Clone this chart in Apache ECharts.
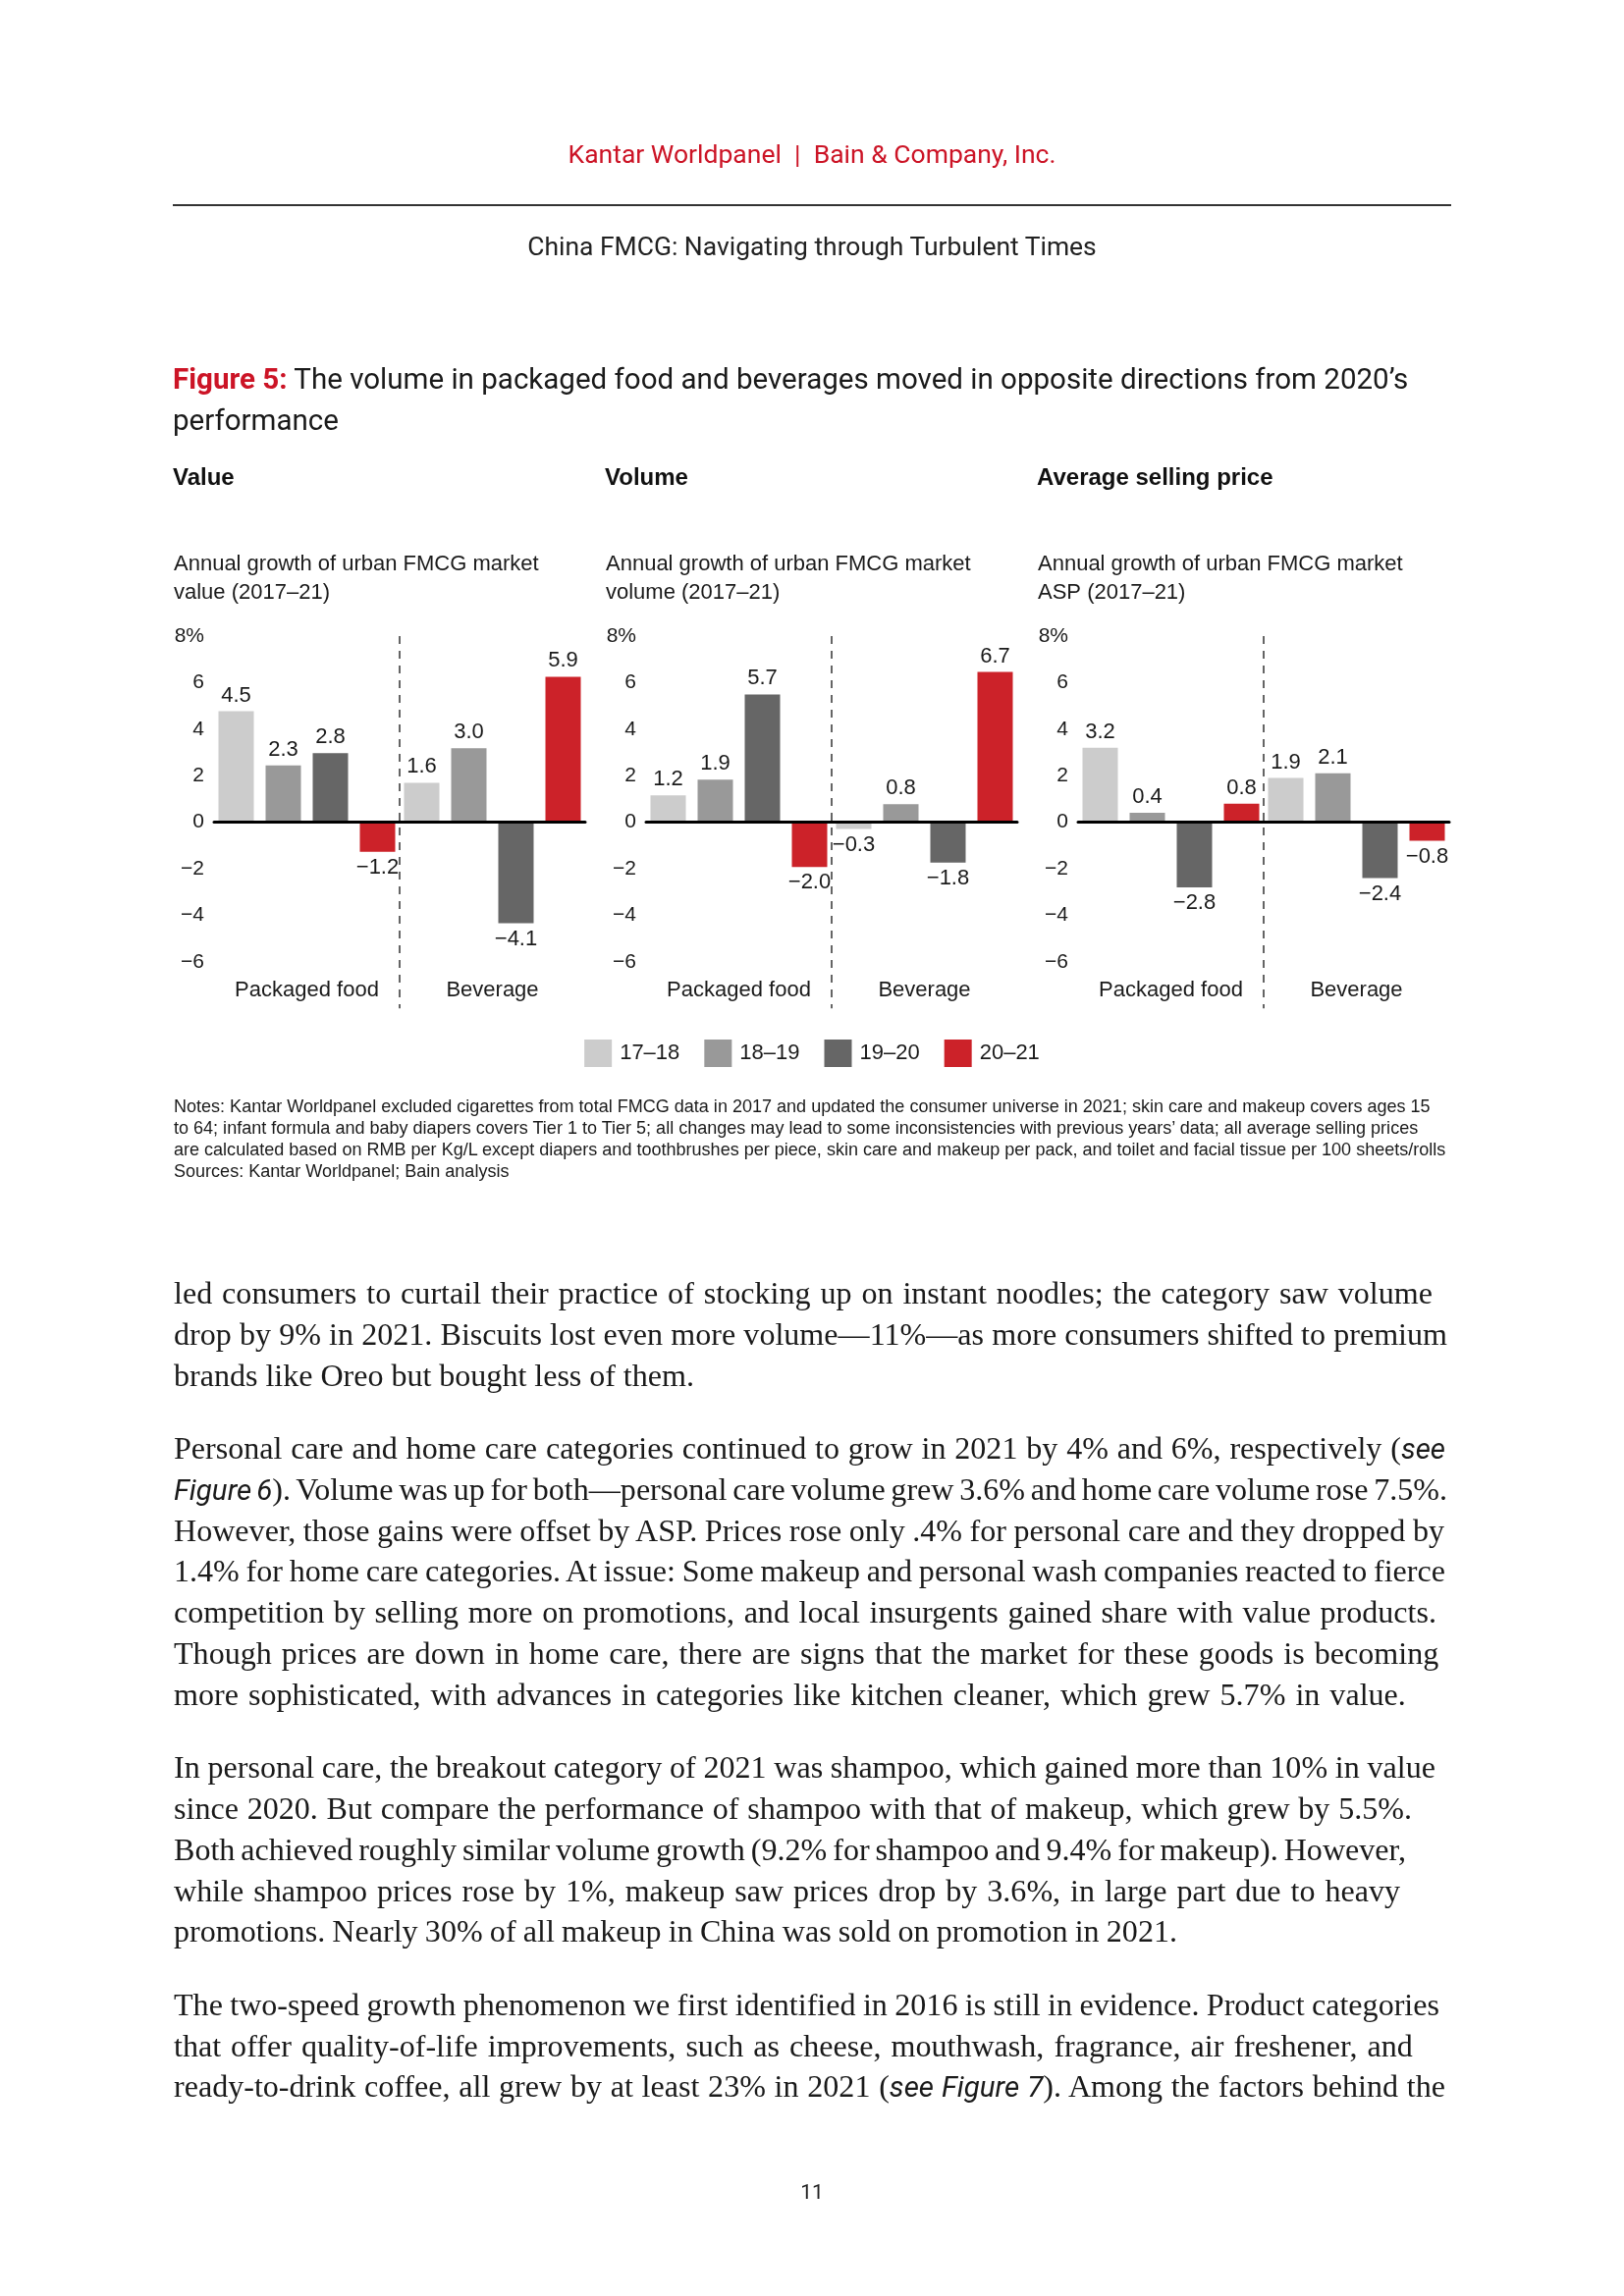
<!DOCTYPE html>
<html><head><meta charset="utf-8">
<script src="https://cdn.jsdelivr.net/npm/echarts@6/dist/echarts.min.js"></script>
<style>
html,body{margin:0;padding:0;background:#fff;}
#page{position:relative;width:1654px;height:2339px;overflow:hidden;background:#fff;}
#chart{position:absolute;left:0;top:0;width:1654px;height:2339px;}
#textLayer{position:absolute;left:0;top:0;width:1654px;height:2339px;pointer-events:none;}
.t{position:absolute;white-space:nowrap;line-height:1.2;transform:translateY(-50%);}
</style></head><body>
<div id="page"><div id="chart"></div><div id="textLayer"></div></div>
<script>
// ---------- DATA ----------
const categories = ['Packaged food', 'Beverage'];
const periods = ['17–18', '18–19', '19–20', '20–21'];
const yTicks = [-8, -6, -4, -2, 0, 2, 4, 6, 8];

// Value growth (%)
const value_1718 = [4.5, 1.6];
const value_1819 = [2.3, 3.0];
const value_1920 = [2.8, -4.1];
const value_2021 = [-1.2, 5.9];
// Volume growth (%)
const volume_1718 = [1.2, -0.3];
const volume_1819 = [1.9, 0.8];
const volume_1920 = [5.7, -1.8];
const volume_2021 = [-2.0, 6.7];
// ASP growth (%)
const asp_1718 = [3.2, 1.9];
const asp_1819 = [0.4, 2.1];
const asp_1920 = [-2.8, -2.4];
const asp_2021 = [0.8, -0.8];

const panelHeadings = ['Value', 'Volume', 'Average selling price'];
const panelSubtitles = [
  'Annual growth of urban FMCG market\nvalue (2017–21)',
  'Annual growth of urban FMCG market\nvolume (2017–21)',
  'Annual growth of urban FMCG market\nASP (2017–21)'
];
const panelSeries = [
  [value_1718, value_1819, value_1920, value_2021],
  [volume_1718, volume_1819, volume_1920, volume_2021],
  [asp_1718, asp_1819, asp_1920, asp_2021]
];

// ---------- STYLE ----------
const colors = ['#cccccc', '#999999', '#666666', '#cc2229'];
const SANS = '"Liberation Sans", Arial, sans-serif';
const TXT = '#1a1a1a';
const panelDx = 440;
const gridLeft0 = 218, gridTop = 648, gridW = 378, gridH = 379.2;
const barRange = [7.55, 8.3, 8.0]; // hidden bar-scale half range per panel (reference bars are scaled per panel)

function fmt(v) { return v < 0 ? '\u2212' + Math.abs(v).toFixed(1) : v.toFixed(1); }
function tickFmt(v) { if (v === 8) return '8%'; return v < 0 ? '\u2212' + Math.abs(v) : String(v); }

const grid = [], xAxis = [], yAxis = [], series = [], title = [];
for (let p = 0; p < 3; p++) {
  const gl = gridLeft0 + p * panelDx;
  grid.push({ left: gl, top: gridTop, width: gridW, height: gridH, containLabel: false });
  // zero-line category axis (bars)
  xAxis.push({ type: 'category', gridIndex: p, data: categories, z: 10,
    axisLine: { show: true, onZero: true, lineStyle: { color: '#000', width: 3 } },
    axisTick: { show: false }, axisLabel: { show: false }, splitLine: { show: false } });
  // category labels at bottom
  xAxis.push({ type: 'category', gridIndex: p, data: categories, position: 'bottom',
    axisLine: { show: false, onZero: false }, axisTick: { show: false },
    axisLabel: { show: true, interval: 0, hideOverlap: false, fontSize: 22, color: TXT, fontFamily: SANS, margin: -29 } });
  // divider between groups
  xAxis.push({ type: 'value', gridIndex: p, min: 0, max: 2, interval: 1, position: 'top',
    axisLine: { show: false }, axisTick: { show: false }, axisLabel: { show: false },
    splitLine: { show: true, showMinLine: false, showMaxLine: false,
      lineStyle: { type: [8, 7], color: '#333', width: 1.5 } } });
  yAxis.push({ type: 'value', gridIndex: p, min: yTicks[0], max: yTicks[yTicks.length - 1], interval: 2,
    axisLine: { show: false }, axisTick: { show: false }, splitLine: { show: false },
    axisLabel: { showMinLabel: false, fontSize: 21, color: TXT, fontFamily: SANS, margin: 10, formatter: tickFmt } });
  yAxis.push({ type: 'value', gridIndex: p, min: -barRange[p], max: barRange[p], show: false });

  panelSeries[p].forEach((arr, k) => {
    series.push({
      type: 'bar', name: periods[k], xAxisIndex: p * 3, yAxisIndex: p * 2 + 1,
      barWidth: 36, barGap: '33.33%',
      itemStyle: { color: colors[k] },
      label: { show: true, fontSize: 22, color: TXT, fontFamily: SANS, distance: 5, formatter: (q) => fmt(q.value) },
      data: arr.map(v => ({ value: v, label: { position: v < 0 ? 'bottom' : 'top' } }))
    });
  });

  title.push({ text: panelHeadings[p], left: 176 + p * panelDx, top: 475, padding: 0,
    textStyle: { fontSize: 24, fontWeight: 'bold', color: '#111', fontFamily: SANS } });
  title.push({ text: panelSubtitles[p], left: 177 + p * panelDx, top: 560, padding: 0,
    textStyle: { fontSize: 22, fontWeight: 'normal', color: TXT, fontFamily: SANS, lineHeight: 29 } });
}

const chart = echarts.init(document.getElementById('chart'), null, { renderer: 'canvas' });
chart.setOption({
  animation: false,
  backgroundColor: 'transparent',
  title: title,
  legend: { data: periods, left: 'center', top: 1054, itemWidth: 28, itemHeight: 28, itemGap: 25,
    icon: 'rect', textStyle: { fontSize: 22, color: TXT, fontFamily: SANS, padding: [0, 0, 0, 3] } },
  grid: grid, xAxis: xAxis, yAxis: yAxis, series: series
});

// ---------- PAGE TEXT ----------
const layer = document.getElementById('textLayer');
const RED = '#cc1426';
const GROT = 'Roboto, "Noto Sans", sans-serif';
const SERIF = '"Liberation Serif", "Times New Roman", serif';
function addLine(html, left, cy, font, size, color, extra) {
  const d = document.createElement('div');
  d.className = 't';
  d.innerHTML = html;
  d.style.left = left + 'px';
  d.style.top = cy + 'px';
  d.style.fontFamily = font;
  d.style.fontSize = size + 'px';
  d.style.color = color || '#1a1a1a';
  if (extra) Object.assign(d.style, extra);
  layer.appendChild(d);
  return d;
}
function fitGroup(lines, refIdx, target) {
  const ref = lines[refIdx];
  const size = parseFloat(ref.style.fontSize);
  const w = ref.getBoundingClientRect().width;
  const ns = size * target / w;
  lines.forEach(l => l.style.fontSize = ns + 'px');
  return ns;
}
function fitSpacing(d, right) {
  const left = parseFloat(d.style.left);
  const w = d.getBoundingClientRect().width;
  const n = (d.textContent.match(/ /g) || []).length;
  if (n > 0) {
    const ws = Math.max(-3, Math.min(2, (right - left - w) / n));
    d.style.wordSpacing = ws + 'px';
  }
}
function centerLine(d, cx) { const w = d.getBoundingClientRect().width; d.style.left = (cx - w / 2) + 'px'; }

// header
const h1 = addLine('Kantar Worldpanel&nbsp;&nbsp;|&nbsp;&nbsp;Bain &amp; Company, Inc.', 0, 157, GROT, 24, RED);
fitGroup([h1], 0, 497); centerLine(h1, 827);
const rule = document.createElement('div');
Object.assign(rule.style, { position: 'absolute', left: '176px', top: '208px', width: '1302px', height: '1.5px', background: '#333' });
layer.appendChild(rule);
const h2 = addLine('China FMCG: Navigating through Turbulent Times', 0, 251, GROT, 24, '#222');
fitGroup([h2], 0, 580); centerLine(h2, 827);

// figure title
const t1 = addLine('<span style="color:' + RED + ';font-weight:bold">Figure 5:</span> The volume in packaged food and beverages moved in opposite directions from 2020’s', 176, 387, GROT, 28, '#1a1a1a');
const t2 = addLine('performance', 176, 429, GROT, 28, '#1a1a1a');
fitGroup([t1, t2], 0, 1259);

// notes
const notes = [
  'Notes: Kantar Worldpanel excluded cigarettes from total FMCG data in 2017 and updated the consumer universe in 2021; skin care and makeup covers ages 15',
  'to 64; infant formula and baby diapers covers Tier 1 to Tier 5; all changes may lead to some inconsistencies with previous years’ data; all average selling prices',
  'are calculated based on RMB per Kg/L except diapers and toothbrushes per piece, skin care and makeup per pack, and toilet and facial tissue per 100 sheets/rolls',
  'Sources: Kantar Worldpanel; Bain analysis'
];
const noteY = [1128, 1150, 1172, 1194];
const noteEls = notes.map((s, i) => addLine(s, 177, noteY[i], SANS, 16, '#1a1a1a'));
fitGroup(noteEls, 2, 1296);

// body paragraphs: [html, centre y, right end in reference]
const IT = (s) => '<span style="font-style:italic;font-size:0.92em;font-family:' + GROT.replace(/"/g, "'") + '">' + s + '</span>';
const body = [
  ['led consumers to curtail their practice of stocking up on instant noodles; the category saw volume', 1317, 1459],
  ['drop by 9% in 2021. Biscuits lost even more volume—11%—as more consumers shifted to premium', 1359, 1474],
  ['brands like Oreo but bought less of them.', 1400.5, 707],
  ['Personal care and home care categories continued to grow in 2021 by 4% and 6%, respectively (' + IT('see'), 1475, 1472],
  [IT('Figure 6') + '). Volume was up for both—personal care volume grew 3.6% and home care volume rose 7.5%.', 1517, 1474],
  ['However, those gains were offset by ASP. Prices rose only .4% for personal care and they dropped by', 1558.6, 1471],
  ['1.4% for home care categories. At issue: Some makeup and personal wash companies reacted to fierce', 1600.4, 1472],
  ['competition by selling more on promotions, and local insurgents gained share with value products.', 1642, 1463],
  ['Though prices are down in home care, there are signs that the market for these goods is becoming', 1684, 1468],
  ['more sophisticated, with advances in categories like kitchen cleaner, which grew 5.7% in value.', 1725.7, 1462],
  ['In personal care, the breakout category of 2021 was shampoo, which gained more than 10% in value', 1800, 1462],
  ['since 2020. But compare the performance of shampoo with that of makeup, which grew by 5.5%.', 1842, 1438],
  ['Both achieved roughly similar volume growth (9.2% for shampoo and 9.4% for makeup). However,', 1884, 1432],
  ['while shampoo prices rose by 1%, makeup saw prices drop by 3.6%, in large part due to heavy', 1925.5, 1426],
  ['promotions. Nearly 30% of all makeup in China was sold on promotion in 2021.', 1967, 1199],
  ['The two-speed growth phenomenon we first identified in 2016 is still in evidence. Product categories', 2042, 1466],
  ['that offer quality-of-life improvements, such as cheese, mouthwash, fragrance, air freshener, and', 2083.6, 1460],
  ['ready-to-drink coffee, all grew by at least 23% in 2021 (' + IT('see Figure 7') + '). Among the factors behind the', 2125.4, 1472]
];
const bodyEls = body.map(b => addLine(b[0], 177, b[1], SERIF, 28, '#1a1a1a'));
fitGroup(bodyEls, 1, 1296);
bodyEls.forEach((d, i) => fitSpacing(d, body[i][2]));

// page number
const pn = addLine('11', 0, 2234, GROT, 21, '#222');
centerLine(pn, 827);
</script>
</body></html>
